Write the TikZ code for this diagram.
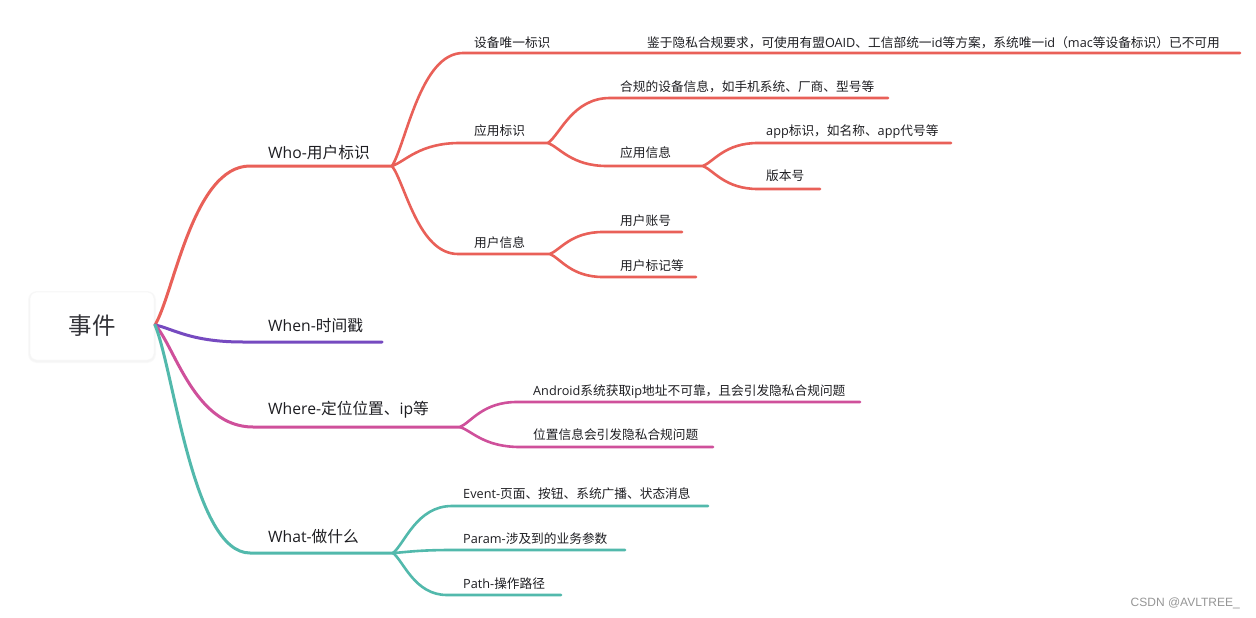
\documentclass[tikz,border=0pt]{standalone}
\usepackage{fontspec}
\setmainfont{Noto Sans CJK SC}
\newfontfamily\lt{Open Sans}
\newfontfamily\wmfont{Liberation Sans}
\usetikzlibrary{calc}
\definecolor{cred}{RGB}{233,96,88}
\definecolor{cpur}{RGB}{118,74,192}
\definecolor{cmag}{RGB}{207,80,155}
\definecolor{ctea}{RGB}{82,185,172}
\definecolor{txt}{RGB}{30,30,34}
\definecolor{roottxt}{RGB}{51,51,56}
\definecolor{wm}{RGB}{150,150,150}
\tikzset{
  br/.style={to path={let \p1=(\tikztostart), \p2=(\tikztotarget) in
     .. controls ({\x1+0.2*(\x2-\x1)},{\y1+0.2*(\y2-\y1)}) and ({\x1+0.4*(\x2-\x1)},\y2) .. (\tikztotarget)}},
  l1/.style={line width=3pt, line cap=round, line join=round},
  l2/.style={line width=2.6pt, line cap=round, line join=round},
  lab/.style={anchor=west, inner sep=0pt, text=txt, font=\fontsize{12.7}{14}\selectfont, text height=11.2pt, text depth=1.5pt},
  lab1/.style={anchor=west, inner sep=0pt, text=txt, font=\fontsize{15.7}{18}\selectfont, text height=13.8pt, text depth=1.9pt},
  rootbox/.style={fill=white, draw=black!3, line width=0.5pt, rounded corners=7pt, minimum width=124pt, minimum height=68pt, inner sep=0pt, text=roottxt, font=\fontsize{23.5}{26}\selectfont},
}
\begin{document}
\begin{tikzpicture}[x=1pt,y=-1pt]
\useasboundingbox (0,0) rectangle (1256,618);
\fill[white] (0,0) rectangle (1256,618);
% root shadow + box
\fill[black!2.5, rounded corners=9pt] (28,291) rectangle (156,363);
\fill[black!4, rounded corners=8pt] (29,292) rectangle (155,362);
\node[rootbox] (root) at (92,326) {事件};

% coordinates
\coordinate (R) at (155,325);
\coordinate (who0) at (250,166); \coordinate (who1) at (392,166);
\coordinate (dev0) at (463,53);  \coordinate (dev1) at (1240,53);
\coordinate (app0) at (460,143); \coordinate (app1) at (548,143);
\coordinate (usr0) at (458,254); \coordinate (usr1) at (550,254);
\coordinate (hg0) at (610,98);   \coordinate (hg1) at (888,98);
\coordinate (ai0) at (607,166);  \coordinate (ai1) at (703,166);
\coordinate (aid0) at (758,143); \coordinate (aid1) at (951,143);
\coordinate (ver0) at (758,189); \coordinate (ver1) at (820,189);
\coordinate (acc0) at (603,232); \coordinate (acc1) at (682,232);
\coordinate (tag0) at (603,277); \coordinate (tag1) at (696,277);
\coordinate (when0) at (243,342); \coordinate (when1) at (382,342);
\coordinate (where0) at (253,427); \coordinate (where1) at (460,427);
\coordinate (and0) at (517,402); \coordinate (and1) at (860,402);
\coordinate (loc0) at (520,447); \coordinate (loc1) at (713,447);
\coordinate (what0) at (250,553); \coordinate (what1) at (393,553);
\coordinate (ev0) at (452,506); \coordinate (ev1) at (708,506);
\coordinate (pa0) at (452,550); \coordinate (pa1) at (625,550);
\coordinate (pt0) at (447,595); \coordinate (pt1) at (561,595);

% Who branch
\draw[cred,l1] (R) to[br] (who0) -- (who1);
\draw[cred,l2] (who1) to[br] (dev0) -- (dev1);
\draw[cred,l2] (who1) to[br] (app0) -- (app1);
\draw[cred,l2] (who1) to[br] (usr0) -- (usr1);
\draw[cred,l2] (app1) to[br] (hg0) -- (hg1);
\draw[cred,l2] (app1) to[br] (ai0) -- (ai1);
\draw[cred,l2] (ai1) to[br] (aid0) -- (aid1);
\draw[cred,l2] (ai1) to[br] (ver0) -- (ver1);
\draw[cred,l2] (usr1) to[br] (acc0) -- (acc1);
\draw[cred,l2] (usr1) to[br] (tag0) -- (tag1);
% When
\draw[cpur,l1] (R) to[br] (when0) -- (when1);
% Where
\draw[cmag,l1] (R) to[br] (where0) -- (where1);
\draw[cmag,l2] (where1) to[br] (and0) -- (and1);
\draw[cmag,l2] (where1) to[br] (loc0) -- (loc1);
% What
\draw[ctea,l1] (R) to[br] (what0) -- (what1);
\draw[ctea,l2] (what1) to[br] (ev0) -- (ev1);
\draw[ctea,l2] (what1) to[br] (pa0) -- (pa1);
\draw[ctea,l2] (what1) to[br] (pt0) -- (pt1);

% labels
\node[lab1] (twho) at (268,153) {{\lt Who-}用户标识};
\node[lab1] (twhen) at (268,326) {{\lt When-}时间戳};
\node[lab1] (twhere) at (268,409) {{\lt Where-}定位位置、{\lt ip}等};
\node[lab1] (twhat) at (268,537) {{\lt What-}做什么};

\node[lab] (tdev) at (474,43) {设备唯一标识};
\node[lab] (tdevd) at (647,43) {鉴于隐私合规要求，可使用有盟{\lt OAID}、工信部统一{\lt id}等方案，系统唯一{\lt id}（{\lt mac}等设备标识）已不可用};
\node[lab] (tapp) at (474,131) {应用标识};
\node[lab] (thg) at (620,87) {合规的设备信息，如手机系统、厂商、型号等};
\node[lab] (tai) at (620,153) {应用信息};
\node[lab] (taid) at (766,131) {{\lt app}标识，如名称、{\lt app}代号等};
\node[lab] (tver) at (766,176) {版本号};
\node[lab] (tusr) at (474,243) {用户信息};
\node[lab] (tacc) at (620,221) {用户账号};
\node[lab] (ttag) at (620,266) {用户标记等};

\node[lab] (tand) at (533,391) {{\lt Android}系统获取{\lt ip}地址不可靠，且会引发隐私合规问题};
\node[lab] (tloc) at (533,435) {位置信息会引发隐私合规问题};

\node[lab] (tev) at (463,494) {{\lt Event-}页面、按钮、系统广播、状态消息};
\node[lab] (tpa) at (463,539) {{\lt Param-}涉及到的业务参数};
\node[lab] (tpt) at (463,584) {{\lt Path-}操作路径};

\node[anchor=east, inner sep=0pt, text=wm, font=\wmfont\fontsize{12}{14}\selectfont] (wmk) at (1240,603) {CSDN @AVLTREE\_};
\end{tikzpicture}
\end{document}
